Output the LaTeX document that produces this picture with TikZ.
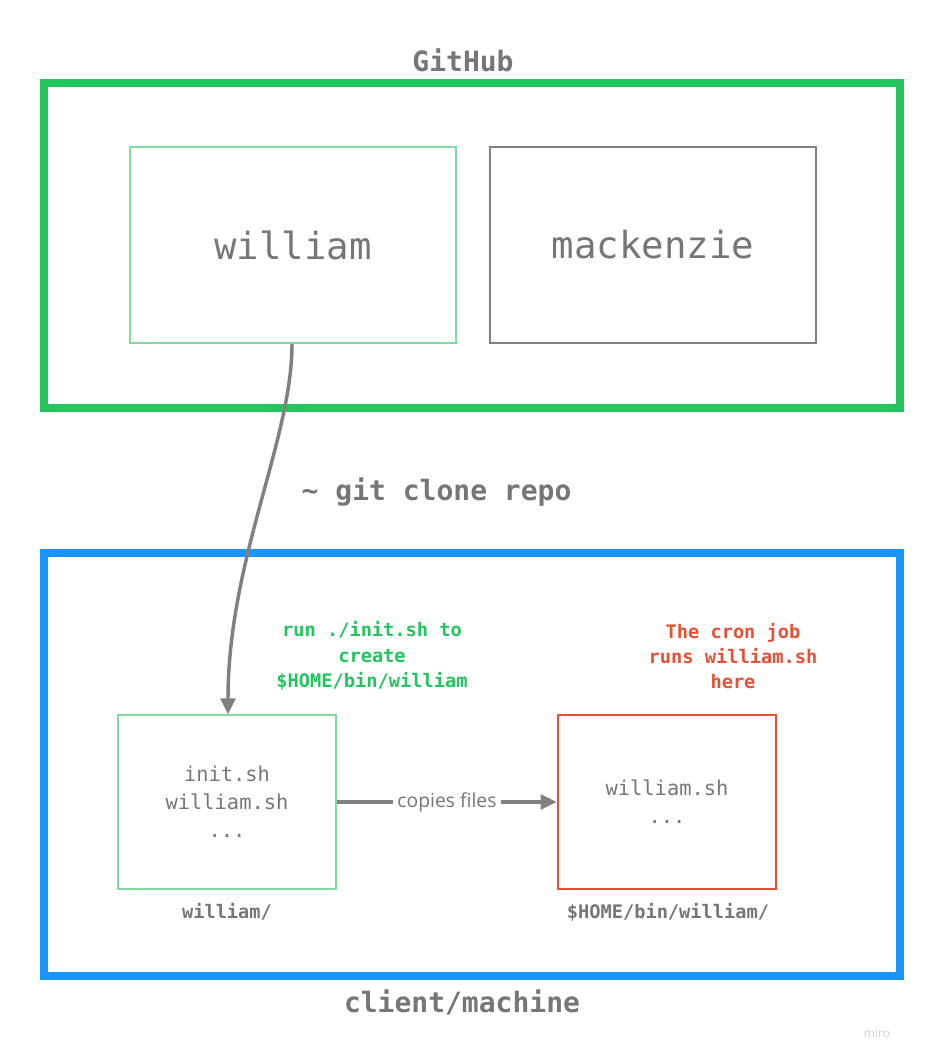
\documentclass[tikz,border=0pt]{standalone}
\usepackage{fontspec}
\setmonofont{DejaVu Sans Mono}
\setsansfont{Open Sans}
\usepackage{tikz}
\usetikzlibrary{arrows.meta,positioning,calc}

\definecolor{ghgreen}{RGB}{34,197,94}
\definecolor{lightgreen}{RGB}{130,218,160}
\definecolor{clientblue}{RGB}{24,148,250}
\definecolor{cronred}{RGB}{232,80,52}
\definecolor{textgray}{RGB}{118,118,118}
\definecolor{linegray}{RGB}{128,128,128}

\begin{document}
\begin{tikzpicture}[
    x=0.75pt, y=-0.75pt,
    outer/.style = {draw, line width=6pt},
    repo/.style = {draw, line width=1.5pt, minimum width=245pt, minimum height=147pt, font=\ttfamily\fontsize{28}{32}\selectfont, text=textgray},
    folder/.style = {draw, line width=1.5pt, minimum width=164pt, minimum height=130pt, align=center, font=\ttfamily\fontsize{15.3}{21}\selectfont, text=textgray},
    title/.style = {font=\ttfamily\bfseries\fontsize{21}{24}\selectfont, text=textgray},
    note/.style = {align=center, font=\ttfamily\bfseries\fontsize{14}{19}\selectfont},
    flow/.style = {-{Triangle[length=12pt,width=11pt]}, line width=2.6pt, draw=linegray}
]
    \useasboundingbox (0,0) rectangle (942,1060);

    % GitHub
    \draw[outer, draw=ghgreen] (44,83) rectangle (900,408);
    \node[title] (github) at (463,60) {GitHub};
    \node[repo, draw=lightgreen] (william) at (293,245) {william};
    \node[repo, draw=linegray] (mackenzie) at (653,245) {mackenzie};

    % client machine
    \draw[outer, draw=clientblue] (44,553) rectangle (900,976);
    \node[title] (client) at (462,1002) {client/machine};

    \node[folder, draw=lightgreen] (clone) at (227,802) {init.sh\\william.sh\\...};
    \node[note, text=textgray] (clonename) at (227,912) {william/};
    \node[note, text=ghgreen] (initnote) at (372,656) {run ./init.sh to\\create\\\$HOME/bin/william};

    \node[folder, draw=cronred] (bin) at (667,802) {william.sh\\...};
    \node[note, text=textgray] (binname) at (668,912) {\$HOME/bin/william/};
    \node[note, text=cronred] (cronnote) at (733,656) {The cron job\\runs william.sh\\here};

    % clone arrow
    \draw[flow] (william.south -| 292,0) .. controls (292,440) and (228,560) .. (clone.north -| 228,0);
    \node[title, anchor=west] (gitclone) at (297,492) {\char`~\ git clone repo};

    % copy arrow
    \draw[flow] (clone) -- (bin) node[midway, fill=white, inner sep=3pt, font=\sffamily\fontsize{14.5}{16}\selectfont, text=textgray] {copies files};

    \node[font=\sffamily\fontsize{9}{10}\selectfont, text=black!18] (miro) at (877,1033) {miro};
\end{tikzpicture}
\end{document}
